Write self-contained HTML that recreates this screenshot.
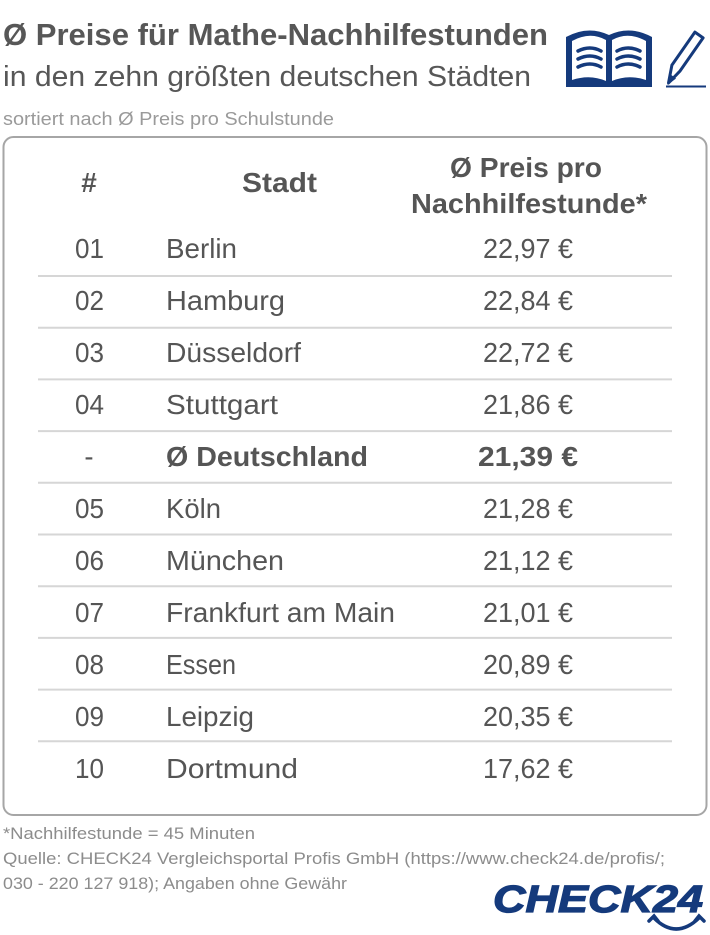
<!DOCTYPE html>
<html><head><meta charset="utf-8"><style>
html,body{margin:0;padding:0;background:#fff;}
svg{display:block;}
text{font-family:"Liberation Sans",sans-serif;}
</style></head><body>
<svg width="710" height="935" viewBox="0 0 710 935" xmlns="http://www.w3.org/2000/svg">
<rect width="710" height="935" fill="#fff"/>
<!-- Title -->
<text x="3" y="45" font-size="31" font-weight="bold" fill="#575757" textLength="545" lengthAdjust="spacingAndGlyphs">Ø Preise für Mathe-Nachhilfestunden</text>
<text x="3" y="86" font-size="29" fill="#575757" textLength="528" lengthAdjust="spacingAndGlyphs">in den zehn größten deutschen Städten</text>
<text x="3" y="125" font-size="18.5" fill="#9a9a9a" textLength="331" lengthAdjust="spacingAndGlyphs">sortiert nach Ø Preis pro Schulstunde</text>

<!-- Book icon -->
<g>
<path d="M566,37 Q588,25 609,35 Q630,25 652,37 L652,87 L566,87 Z" fill="#153a7c"/>
<path d="M572,41 Q590,31 606,40 L606,81 Q590,74 572,80 Z" fill="#fff"/>
<path d="M612,40 Q628,31 646,41 L646,80 Q628,74 612,81 Z" fill="#fff"/>
<g stroke="#153a7c" stroke-width="3.5" fill="none" stroke-linecap="round">
<path d="M578,51 Q590,45 601,51"/>
<path d="M578,59 Q590,53 601,59"/>
<path d="M578,67 Q590,61 601,67"/>
<path d="M617,51 Q628,45 640,51"/>
<path d="M617,59 Q628,53 640,59"/>
<path d="M617,67 Q628,61 640,67"/>
</g>
</g>
<!-- Pencil -->
<g>
<path d="M694.9,32.1 L703.1,37.9 L680.1,70.9 L668.5,83 L671.9,65.1 Z" fill="#fff" stroke="#153a7c" stroke-width="3" stroke-linejoin="round"/>
<path d="M670,74 L676,78.5 L667.5,85 Z" fill="#153a7c"/>
<line x1="666" y1="86.5" x2="706" y2="86.5" stroke="#153a7c" stroke-width="2"/>
</g>

<!-- Table box -->
<rect x="3.5" y="137" width="703" height="678" rx="10" ry="10" fill="#fff" stroke="#a6a6a6" stroke-width="2"/>

<!-- Header -->
<g font-weight="bold" font-size="28" fill="#555">
<text x="89" y="192" text-anchor="middle">#</text>
<text x="242" y="192" textLength="75" lengthAdjust="spacingAndGlyphs">Stadt</text>
<text x="450" y="177" textLength="152" lengthAdjust="spacingAndGlyphs">Ø Preis pro</text>
<text x="411" y="213" textLength="236" lengthAdjust="spacingAndGlyphs">Nachhilfestunde*</text>
</g>

<!-- Row lines -->
<g stroke="#d6d6d6" stroke-width="2">
<line x1="38" y1="276" x2="672" y2="276"/>
<line x1="38" y1="327.7" x2="672" y2="327.7"/>
<line x1="38" y1="379.4" x2="672" y2="379.4"/>
<line x1="38" y1="431.1" x2="672" y2="431.1"/>
<line x1="38" y1="482.8" x2="672" y2="482.8"/>
<line x1="38" y1="534.5" x2="672" y2="534.5"/>
<line x1="38" y1="586.2" x2="672" y2="586.2"/>
<line x1="38" y1="637.9" x2="672" y2="637.9"/>
<line x1="38" y1="689.6" x2="672" y2="689.6"/>
<line x1="38" y1="741.3" x2="672" y2="741.3"/>
</g>

<!-- Rows -->
<g font-size="27.5" fill="#555">
<text x="75" y="258" textLength="29" lengthAdjust="spacingAndGlyphs">01</text>
<text x="166" y="258" textLength="71" lengthAdjust="spacingAndGlyphs">Berlin</text>
<text x="483" y="258" textLength="90" lengthAdjust="spacingAndGlyphs">22,97 €</text>

<text x="75" y="310" textLength="29" lengthAdjust="spacingAndGlyphs">02</text>
<text x="166" y="310" textLength="119" lengthAdjust="spacingAndGlyphs">Hamburg</text>
<text x="483" y="310" textLength="90" lengthAdjust="spacingAndGlyphs">22,84 €</text>

<text x="75" y="362" textLength="29" lengthAdjust="spacingAndGlyphs">03</text>
<text x="166" y="362" textLength="135" lengthAdjust="spacingAndGlyphs">Düsseldorf</text>
<text x="483" y="362" textLength="90" lengthAdjust="spacingAndGlyphs">22,72 €</text>

<text x="75" y="414" textLength="29" lengthAdjust="spacingAndGlyphs">04</text>
<text x="166" y="414" textLength="112" lengthAdjust="spacingAndGlyphs">Stuttgart</text>
<text x="483" y="414" textLength="90" lengthAdjust="spacingAndGlyphs">21,86 €</text>

<text x="89" y="466" text-anchor="middle">-</text>
<text x="166" y="466" font-weight="bold" textLength="202" lengthAdjust="spacingAndGlyphs">Ø Deutschland</text>
<text x="478" y="466" font-weight="bold" textLength="100" lengthAdjust="spacingAndGlyphs">21,39 €</text>

<text x="75" y="518" textLength="29" lengthAdjust="spacingAndGlyphs">05</text>
<text x="166" y="518" textLength="55" lengthAdjust="spacingAndGlyphs">Köln</text>
<text x="483" y="518" textLength="90" lengthAdjust="spacingAndGlyphs">21,28 €</text>

<text x="75" y="570" textLength="29" lengthAdjust="spacingAndGlyphs">06</text>
<text x="166" y="570" textLength="118" lengthAdjust="spacingAndGlyphs">München</text>
<text x="483" y="570" textLength="90" lengthAdjust="spacingAndGlyphs">21,12 €</text>

<text x="75" y="622" textLength="29" lengthAdjust="spacingAndGlyphs">07</text>
<text x="166" y="622" textLength="229" lengthAdjust="spacingAndGlyphs">Frankfurt am Main</text>
<text x="483" y="622" textLength="90" lengthAdjust="spacingAndGlyphs">21,01 €</text>

<text x="75" y="674" textLength="29" lengthAdjust="spacingAndGlyphs">08</text>
<text x="166" y="674" textLength="70" lengthAdjust="spacingAndGlyphs">Essen</text>
<text x="483" y="674" textLength="90" lengthAdjust="spacingAndGlyphs">20,89 €</text>

<text x="75" y="726" textLength="29" lengthAdjust="spacingAndGlyphs">09</text>
<text x="166" y="726" textLength="88" lengthAdjust="spacingAndGlyphs">Leipzig</text>
<text x="483" y="726" textLength="90" lengthAdjust="spacingAndGlyphs">20,35 €</text>

<text x="75" y="778" textLength="29" lengthAdjust="spacingAndGlyphs">10</text>
<text x="166" y="778" textLength="132" lengthAdjust="spacingAndGlyphs">Dortmund</text>
<text x="483" y="778" textLength="90" lengthAdjust="spacingAndGlyphs">17,62 €</text>
</g>

<!-- Footer -->
<g font-size="17" fill="#8c8c8c">
<text x="3" y="839" textLength="252" lengthAdjust="spacingAndGlyphs">*Nachhilfestunde = 45 Minuten</text>
<text x="3" y="864" textLength="662" lengthAdjust="spacingAndGlyphs">Quelle: CHECK24 Vergleichsportal Profis GmbH (https://www.check24.de/profis/;</text>
<text x="3" y="889" textLength="344" lengthAdjust="spacingAndGlyphs">030 - 220 127 918); Angaben ohne Gewähr</text>
</g>

<!-- CHECK24 logo -->
<text x="493" y="912" font-size="38" font-weight="bold" font-style="italic" fill="#153a7c" stroke="#153a7c" stroke-width="1.2" textLength="210" lengthAdjust="spacingAndGlyphs">CHECK24</text>
<g stroke="#153a7c" stroke-width="3.5" fill="none" stroke-linecap="round">
<path d="M654,918 Q676,940 699,918"/>
<path d="M649,921 L654,916 L658,921"/>
<path d="M695,921 L699,916 L704,921"/>
</g>
</svg>
</body></html>
